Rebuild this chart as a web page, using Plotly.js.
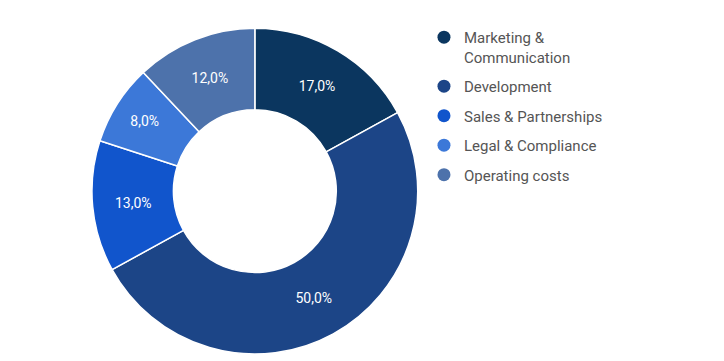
<!DOCTYPE html>
<html><head><meta charset="utf-8">
<script src="https://cdn.plot.ly/plotly-3.0.1.min.js"></script>
<style>html,body{margin:0;padding:0;background:#fff}#chart{width:724px;height:361px}</style>
</head><body><div id="chart"></div>
<script>
const categories = ["Marketing &<br>Communication", "Development", "Sales & Partnerships", "Legal & Compliance", "Operating costs"];
const shares = [17, 50, 13, 8, 12];
const colors = ["#0b365f", "#1c4587", "#1155cc", "#3c78d8", "#4d72ab"];

const traces = [{
  type: 'pie',
  values: shares,
  labels: categories,
  sort: false,
  direction: 'clockwise',
  rotation: 0,
  hole: 0.5,
  showlegend: false,
  marker: {colors: colors, line: {color: '#ffffff', width: 1.5}},
  texttemplate: '%{value:.1f}%',
  textposition: 'inside',
  insidetextorientation: 'horizontal',
  textfont: {family: 'Roboto', size: 14, color: '#ffffff'},
  domain: {x: [0.127, 0.577], y: [0.019, 0.922]},
  hoverinfo: 'none'
}];
categories.forEach((c, i) => {
  traces.push({
    type: 'scatter', mode: 'markers', x: [null], y: [null], name: c,
    marker: {color: colors[i], size: 13, symbol: 'circle'},
    legendgroup: 'g' + i, hoverinfo: 'none'
  });
});

const layout = {
  width: 724, height: 361,
  margin: {l: 0, r: 0, t: 0, b: 0},
  paper_bgcolor: '#ffffff', plot_bgcolor: '#ffffff',
  separators: ', ',
  xaxis: {visible: false}, yaxis: {visible: false},
  showlegend: true,
  legend: {
    x: 0.5856, y: 0.942, xanchor: 'left', yanchor: 'top',
    font: {family: 'Roboto', size: 15, color: '#555555'},
    traceorder: 'grouped', tracegroupgap: 7, itemwidth: 30,
    valign: 'top',
    bgcolor: 'rgba(0,0,0,0)'
  }
};
Plotly.newPlot('chart', traces, layout, {displayModeBar: false, staticPlot: true});
</script></body></html>
